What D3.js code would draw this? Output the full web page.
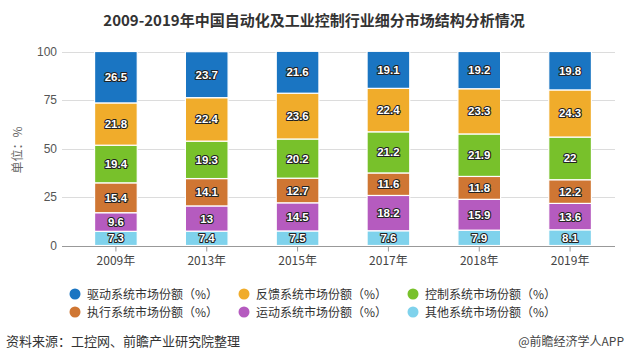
<!DOCTYPE html>
<html><head><meta charset="utf-8">
<script src="https://cdn.jsdelivr.net/npm/d3@7"></script>
<style>body{margin:0;background:#fff;}svg{display:block;font-family:"Noto Sans CJK SC","Noto Sans",sans-serif;}</style>
</head><body><svg id="c" width="628" height="362"></svg>
<script>
const years = ["2009年","2013年","2015年","2017年","2018年","2019年"];
const seriesNames = ["驱动系统市场份额（%）","反馈系统市场份额（%）","控制系统市场份额（%）","执行系统市场份额（%）","运动系统市场份额（%）","其他系统市场份额（%）"];
const drive    = [26.5,23.7,21.6,19.1,19.2,19.8];
const feedback = [21.8,22.4,23.6,22.4,23.3,24.3];
const control  = [19.4,19.3,20.2,21.2,21.9,22];
const execute  = [15.4,14.1,12.7,11.6,11.8,12.2];
const motion   = [9.6,13,14.5,18.2,15.9,13.6];
const other    = [7.3,7.4,7.5,7.6,7.9,8.1];
const yTicks = [0,25,50,75,100];
const colors = ["#1a75c2","#f0ac2b","#78c12b","#cf7633","#b55bbf","#7fd2ec"];

const svg = d3.select("#c");
const series = [drive,feedback,control,execute,motion,other];
const keys = ["drive","feedback","control","execute","motion","other"];
const rows = years.map((y,i)=>{const o={year:y};keys.forEach((k,j)=>o[k]=series[j][i]);return o;});
const stackOrder = ["other","motion","execute","control","feedback","drive"];
const stacked = d3.stack().keys(stackOrder)(rows);

const x = d3.scaleBand().domain(years).range([70.5,615.5]).paddingInner(0.53).paddingOuter(0.265);
const y = d3.scaleLinear().domain([0,100]).range([245.5,51.5]);

svg.append("text").attr("x",314).attr("y",26).attr("text-anchor","middle")
  .attr("font-size",15).attr("font-weight","bold").attr("fill","#333")
  .text("2009-2019年中国自动化及工业控制行业细分市场结构分析情况");

// grid
svg.append("g").selectAll("line").data(yTicks.filter(d=>d>0)).join("line")
  .attr("x1",62).attr("x2",615).attr("y1",d=>Math.round(y(d))+0.5).attr("y2",d=>Math.round(y(d))+0.5)
  .attr("stroke","#dcdcdc").attr("stroke-width",1);

// y labels
svg.append("g").selectAll("text").data(yTicks).join("text")
  .attr("x",57).attr("y",d=>y(d)+4).attr("text-anchor","end").attr("font-size",12)
  .attr("fill","#555").attr("font-family","Liberation Sans, Arial, sans-serif").text(d=>d);

svg.append("text").attr("transform","translate(22,150) rotate(-90)").attr("text-anchor","middle")
  .attr("font-size",12).attr("fill","#666").text("单位：%");

// bars
const colorOf = k => colors[keys.indexOf(k)];
const g = svg.append("g");
stacked.forEach(layer=>{
  g.append("g").selectAll("rect").data(layer).join("rect")
    .attr("x",d=>x(d.data.year)).attr("width",x.bandwidth())
    .attr("y",d=>y(d[1])).attr("height",d=>y(d[0])-y(d[1]))
    .attr("fill",colorOf(layer.key)).attr("stroke","#fff").attr("stroke-width",1.2);
});
// labels
stacked.forEach(layer=>{
  g.append("g").selectAll("text").data(layer).join("text")
    .attr("x",d=>x(d.data.year)+x.bandwidth()/2).attr("y",d=>(y(d[0])+y(d[1]))/2+4)
    .attr("text-anchor","middle").attr("font-size",11.5).attr("font-weight","bold")
    .attr("font-family","Liberation Sans, Arial, sans-serif")
    .attr("fill","#fff").attr("stroke","#222").attr("stroke-width",2.2).attr("paint-order","stroke")
    .attr("stroke-linejoin","round")
    .text(d=>d.data[layer.key]);
});

// x axis
const xa = svg.append("g").attr("transform",`translate(0,${Math.round(y(0))+0.5})`)
  .call(d3.axisBottom(x).tickSize(5).tickSizeOuter(0));
xa.select(".domain").attr("stroke","#999").attr("d","M62,0H615");
xa.selectAll(".tick line").attr("stroke","#999");
xa.selectAll("text").attr("font-size",12).attr("fill","#444").attr("dy","0.9em")
  .attr("font-family","Noto Sans CJK SC, sans-serif");

// legend
const lg = svg.append("g");
seriesNames.forEach((n,i)=>{
  const col=i%3,row=Math.floor(i/3);
  const lx=75+col*169, ly=294+row*18;
  lg.append("circle").attr("cx",lx).attr("cy",ly).attr("r",5.5).attr("fill",colors[i]);
  lg.append("text").attr("x",lx+12).attr("y",ly+4.5).attr("font-size",12).attr("fill","#333").text(n);
});

svg.append("text").attr("x",6).attr("y",346).attr("font-size",13).attr("fill","#333")
  .text("资料来源：工控网、前瞻产业研究院整理");
svg.append("text").attr("x",624).attr("y",346).attr("text-anchor","end").attr("font-size",12).attr("fill","#444")
  .text("@前瞻经济学人APP");
</script></body></html>
